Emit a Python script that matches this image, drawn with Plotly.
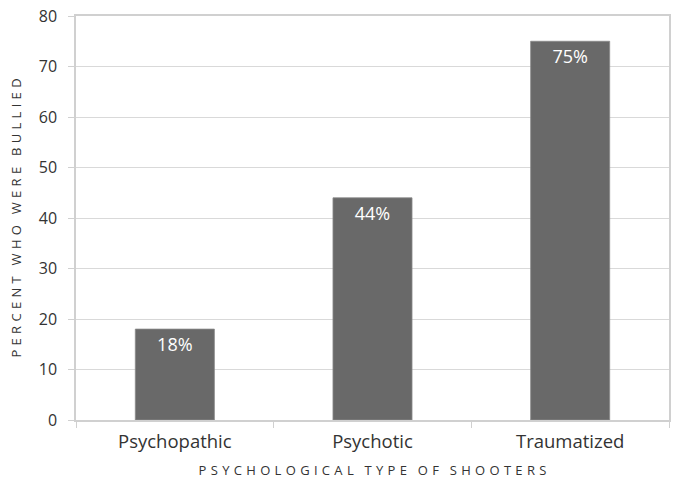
import plotly.graph_objects as go

categories = ["Psychopathic", "Psychotic", "Traumatized"]
values = [18, 44, 75]
labels = ["18%", "44%", "75%"]
y_ticks = [0, 10, 20, 30, 40, 50, 60, 70, 80]

SP = "\u2009\u2009"
def spaced(s):
    words = s.split(" ")
    return (SP + "\u2002").join(SP.join(list(w)) for w in words)

fig = go.Figure(go.Bar(
    x=categories, y=values, text=labels,
    textposition="inside", insidetextanchor="end",
    textfont=dict(color="white", size=18, family="Open Sans"),
    marker=dict(color="#696969", line=dict(color="#8a8a8a", width=0.8)),
    width=0.4,
))
fig.update_layout(
    width=673, height=485,
    margin=dict(l=76, r=4, t=16, b=65, autoexpand=False),
    plot_bgcolor="white", paper_bgcolor="white",
    font=dict(family="Open Sans", color="#333333", size=16),
    showlegend=False,
    xaxis=dict(
        automargin=False,
        showline=True, linecolor="#d0d0d0", linewidth=1.5, mirror=True,
        ticks="outside", ticklen=6, tickcolor="#d0d0d0", tickson="boundaries",
        tickfont=dict(size=18.5), ticklabelstandoff=4,
        title=dict(text=spaced("PSYCHOLOGICAL TYPE OF SHOOTERS"), font=dict(size=13), standoff=14),
    ),
    yaxis=dict(
        automargin=False,
        range=[0, 80], tickvals=y_ticks,
        showline=True, linecolor="#d0d0d0", linewidth=1.5, mirror=True,
        ticks="outside", ticklen=6, tickcolor="#d0d0d0", ticklabelstandoff=8,
        gridcolor="#d9d9d9", gridwidth=1.2, zeroline=False,
        tickfont=dict(size=16),
        title=dict(text=spaced("PERCENT WHO WERE BULLIED") + "\u00a0" * 7, font=dict(size=13), standoff=14),
    ),
)
fig.update_traces(textangle=0)
fig.write_html("out.html", config={"displayModeBar": False},
               post_script="document.body.style.margin='0';document.body.style.overflow='hidden';")
